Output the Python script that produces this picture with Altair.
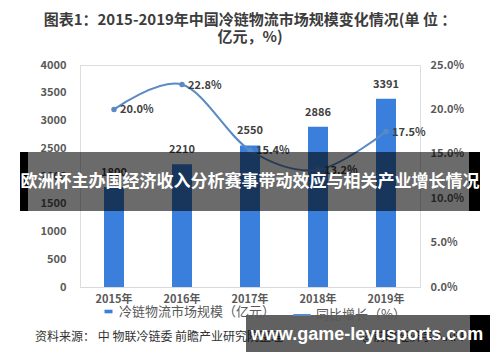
import altair as alt
import pandas as pd

# ---- data ----
years = ["2015年", "2016年", "2017年", "2018年", "2019年"]
market_size = [1800, 2210, 2550, 2886, 3391]          # 冷链物流市场规模（亿元）
growth_pct = [20.0, 22.8, 15.4, 13.2, 17.5]            # 同比增长（%）
bar_series = "冷链物流市场规模（亿元）"
line_series = "同比增长（%）"
left_ticks = [0, 500, 1000, 1500, 2000, 2500, 3000, 3500, 4000]
right_ticks = [0, 5, 10, 15, 20, 25]
title_lines = ["图表1：2015-2019年中国冷链物流市场规模变化情况(单 位 ：", "亿元，%)"]
source_text = "资料来源： 中 物联冷链委 前瞻产业研究院整理"
credit_text = "@前瞻经济学人APP"
banner_text = "欧洲杯主办国经济收入分析赛事带动效应与相关产业增长情况"
site_text = "www.game-leyusports.com"

FONT = "Noto Sans CJK SC"
BAR_COLOR = "#3a7fdc"
LINE_COLOR = "#5a8ac6"

df = pd.DataFrame({
    "year": years,
    "size": market_size,
    "growth": growth_pct,
    "bs": [bar_series] * len(years),
    "ls": [line_series] * len(years),
})

x_enc = alt.X("year:N", sort=years, title=None,
              scale=alt.Scale(paddingInner=0.706, paddingOuter=0.353),
              axis=alt.Axis(labelFont=FONT, labelFontSize=11, labelFontWeight="bold",
                            labelColor="#595959", labelAngle=0, labelPadding=6,
                            ticks=False, domainColor="#d9d9d9", domainWidth=1))

left_axis = alt.Axis(values=left_ticks, format="d", grid=False, ticks=False, domain=False,
                     labelFont=FONT, labelFontSize=11, labelFontWeight="bold",
                     labelColor="#595959", labelPadding=14)
left_scale = alt.Scale(domain=[0, 4000], nice=False)

base = alt.Chart(df)

bars = base.mark_bar(size=20).encode(
    x=x_enc,
    y=alt.Y("size:Q", title=None, scale=left_scale, axis=left_axis),
    color=alt.Color("bs:N", scale=alt.Scale(domain=[bar_series], range=[BAR_COLOR]),
                    legend=alt.Legend(orient="none", legendX=22, legendY=240, title=None,
                                      symbolType="M-1,-0.45H1V0.45H-1Z", symbolSize=64,
                                      labelFont=FONT, labelFontSize=13, labelColor="#595959",
                                      padding=0, zindex=0)),
)
bar_text = base.mark_text(dy=-14, font=FONT, fontSize=11, fontWeight="bold",
                          color="#404040").encode(
    x=alt.X("year:N", sort=years),
    y=alt.Y("size:Q", title=None, scale=left_scale, axis=left_axis),
    text=alt.Text("size:Q"),
)
layer_a = alt.layer(bars, bar_text)

right_axis = alt.Axis(orient="right", values=right_ticks, grid=False, ticks=False,
                      domain=False, labelFont=FONT, labelFontSize=11,
                      labelFontWeight="bold", labelColor="#595959", labelPadding=10,
                      labelExpr="format(datum.value, '.1f') + '%'")
right_scale = alt.Scale(domain=[0, 25], nice=False)

line = base.mark_line(interpolate="cardinal", strokeWidth=2).encode(
    x=alt.X("year:N", sort=years),
    y=alt.Y("growth:Q", title=None, scale=right_scale, axis=right_axis),
    stroke=alt.Stroke("ls:N", scale=alt.Scale(domain=[line_series], range=[LINE_COLOR]),
                      legend=alt.Legend(orient="none", legendX=212, legendY=240, title=None,
                                        symbolType="stroke", symbolSize=300,
                                        symbolStrokeWidth=2,
                                        labelFont=FONT, labelFontSize=13,
                                        labelColor="#595959", padding=0, zindex=0)),
)
points = base.mark_point(filled=True, size=30, color=LINE_COLOR, opacity=1).encode(
    x=alt.X("year:N", sort=years),
    y=alt.Y("growth:Q", title=None, scale=right_scale, axis=right_axis),
)
line_text = base.transform_calculate(
    lbl="format(datum.growth, '.1f') + '%'"
).mark_text(align="left", dx=6, dy=1, font=FONT, fontSize=11,
            fontWeight="bold", color="#404040").encode(
    x=alt.X("year:N", sort=years),
    y=alt.Y("growth:Q", title=None, scale=right_scale, axis=right_axis),
    text="lbl:N",
)
layer_b = alt.layer(line, points, line_text)

chart_core = alt.layer(layer_a, layer_b).resolve_scale(y="independent", color="independent")

# ---- decorative text and overlays ----
src = alt.Chart(pd.DataFrame({"t": [source_text]})).mark_text(
    align="left", baseline="middle", font=FONT, fontSize=12, color="#333333"
).encode(x=alt.value(-45), y=alt.value(272), text="t:N")
credit = alt.Chart(pd.DataFrame({"t": [credit_text]})).mark_text(
    align="left", baseline="middle", font=FONT, fontSize=12, color="#333333"
).encode(x=alt.value(282), y=alt.value(272), text="t:N")

ov = pd.DataFrame({"t": [banner_text]})
banner_gray = alt.Chart(ov).mark_rect(color="black", opacity=0.58).encode(
    x=alt.value(-52), x2=alt.value(389), y=alt.value(87), y2=alt.value(146))
banner_l = alt.Chart(ov).mark_rect(color="black", opacity=1).encode(
    x=alt.value(-60), x2=alt.value(-52), y=alt.value(87), y2=alt.value(146))
banner_r = alt.Chart(ov).mark_rect(color="black", opacity=1).encode(
    x=alt.value(389), x2=alt.value(400), y=alt.value(87), y2=alt.value(146))
banner_t = alt.Chart(ov).mark_text(
    align="center", baseline="middle", font=FONT, fontSize=17, fontWeight="bold",
    color="white").encode(x=alt.value(170), y=alt.value(117), text="t:N")

sv = pd.DataFrame({"t": [site_text]})
site_gray = alt.Chart(sv).mark_rect(color="black", opacity=0.62).encode(
    x=alt.value(166), x2=alt.value(390), y=alt.value(250), y2=alt.value(287))
site_r = alt.Chart(sv).mark_rect(color="black", opacity=1).encode(
    x=alt.value(390), x2=alt.value(410), y=alt.value(250), y2=alt.value(287))
site_t = alt.Chart(sv).mark_text(
    align="center", baseline="middle", font="Liberation Sans", fontSize=18,
    fontWeight="bold", color="white").encode(x=alt.value(287), y=alt.value(270), text="t:N")

chart = alt.layer(
    chart_core, src, credit,
    banner_gray, banner_l, banner_r, banner_t,
    site_gray, site_r, site_t,
).properties(
    width=340, height=222,
    title=alt.Title(title_lines, anchor="middle", frame="group", font=FONT, fontSize=15,
                    fontWeight="bold", color="#3c3c3c", offset=14, lineHeight=17),
    autosize=alt.AutoSizeParams(type="none"),
    padding={"left": 72, "top": 57, "right": 72, "bottom": 67},
).configure_view(stroke=None).configure(background="white")

chart.save("out.html", embed_options={"renderer": "svg", "actions": False})
